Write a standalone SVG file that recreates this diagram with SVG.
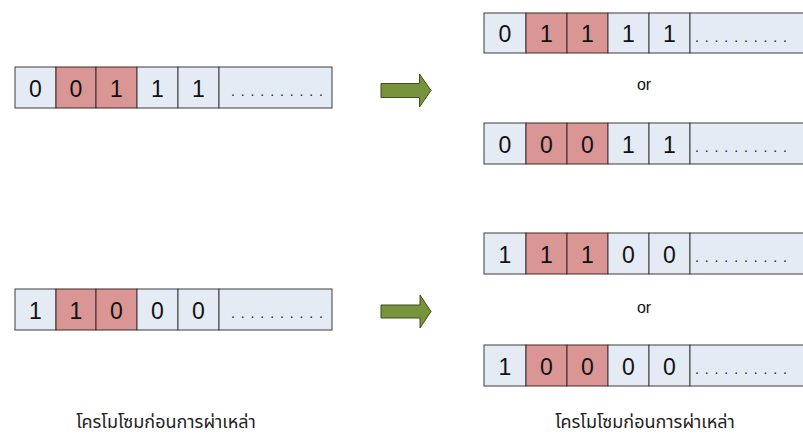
<svg xmlns="http://www.w3.org/2000/svg" width="803" height="436" viewBox="0 0 803 436">
  <defs>
    <style>
      .cell { fill: #e4ebf5; stroke: #3c3c3c; stroke-width: 1; }
      .hot { fill: #d99694; stroke: #3c2a2a; stroke-width: 1; }
      .bit { font-family: "Liberation Sans", Arial, sans-serif; font-size: 23px; fill: #111; text-anchor: middle; }
      .dots { font-family: "Liberation Sans", Arial, sans-serif; font-size: 14px; fill: #222; letter-spacing: 5.9px; }
      .or { font-family: "Liberation Sans", Arial, sans-serif; font-size: 16px; fill: #111; text-anchor: middle; }
      .cap { font-family: "Noto Sans Thai", "Noto Sans", "Liberation Sans", sans-serif; font-size: 18px; fill: #222; text-anchor: middle; }
      .arrow { fill: #77933c; stroke: #3f4f1f; stroke-width: 1; }
    </style>
  </defs>

  <!-- left: chromosome 1 -->
  <g id="left-top">
    <rect class="cell" x="15" y="67" width="41" height="41"/>
    <rect class="hot" x="56" y="67" width="40" height="41"/>
    <rect class="hot" x="96" y="67" width="41" height="41"/>
    <rect class="cell" x="137" y="67" width="41" height="41"/>
    <rect class="cell" x="178" y="67" width="41" height="41"/>
    <rect class="cell" x="219" y="67" width="113" height="41"/>
    <text class="bit" x="35.5" y="97">0</text>
    <text class="bit" x="76" y="97">0</text>
    <text class="bit" x="116.5" y="97">1</text>
    <text class="bit" x="157.5" y="97">1</text>
    <text class="bit" x="198.5" y="97">1</text>
    <text class="dots" x="231" y="96">..........</text>
  </g>

  <!-- left: chromosome 2 -->
  <g id="left-bottom">
    <rect class="cell" x="15" y="289" width="41" height="41"/>
    <rect class="hot" x="56" y="289" width="40" height="41"/>
    <rect class="hot" x="96" y="289" width="41" height="41"/>
    <rect class="cell" x="137" y="289" width="41" height="41"/>
    <rect class="cell" x="178" y="289" width="41" height="41"/>
    <rect class="cell" x="219" y="289" width="113" height="41"/>
    <text class="bit" x="35.5" y="319">1</text>
    <text class="bit" x="76" y="319">1</text>
    <text class="bit" x="116.5" y="319">0</text>
    <text class="bit" x="157.5" y="319">0</text>
    <text class="bit" x="198.5" y="319">0</text>
    <text class="dots" x="231" y="318">..........</text>
  </g>

  <!-- right: results for chromosome 1 -->
  <g id="right-1a">
    <rect class="cell" x="484" y="13" width="42" height="40"/>
    <rect class="hot" x="526" y="13" width="41" height="40"/>
    <rect class="hot" x="567" y="13" width="41" height="40"/>
    <rect class="cell" x="608" y="13" width="41" height="40"/>
    <rect class="cell" x="649" y="13" width="41" height="40"/>
    <rect class="cell" x="690" y="13" width="120" height="40"/>
    <text class="bit" x="505" y="42">0</text>
    <text class="bit" x="546.5" y="42">1</text>
    <text class="bit" x="587.5" y="42">1</text>
    <text class="bit" x="628.5" y="42">1</text>
    <text class="bit" x="669.5" y="42">1</text>
    <text class="dots" x="695" y="42">..........</text>
  </g>
  <text class="or" x="644" y="90">or</text>
  <g id="right-1b">
    <rect class="cell" x="484" y="123" width="42" height="41"/>
    <rect class="hot" x="526" y="123" width="41" height="41"/>
    <rect class="hot" x="567" y="123" width="41" height="41"/>
    <rect class="cell" x="608" y="123" width="41" height="41"/>
    <rect class="cell" x="649" y="123" width="41" height="41"/>
    <rect class="cell" x="690" y="123" width="120" height="41"/>
    <text class="bit" x="505" y="153">0</text>
    <text class="bit" x="546.5" y="153">0</text>
    <text class="bit" x="587.5" y="153">0</text>
    <text class="bit" x="628.5" y="153">1</text>
    <text class="bit" x="669.5" y="153">1</text>
    <text class="dots" x="695" y="152">..........</text>
  </g>

  <!-- right: results for chromosome 2 -->
  <g id="right-2a">
    <rect class="cell" x="484" y="233" width="42" height="41"/>
    <rect class="hot" x="526" y="233" width="41" height="41"/>
    <rect class="hot" x="567" y="233" width="41" height="41"/>
    <rect class="cell" x="608" y="233" width="41" height="41"/>
    <rect class="cell" x="649" y="233" width="41" height="41"/>
    <rect class="cell" x="690" y="233" width="120" height="41"/>
    <text class="bit" x="505" y="263">1</text>
    <text class="bit" x="546.5" y="263">1</text>
    <text class="bit" x="587.5" y="263">1</text>
    <text class="bit" x="628.5" y="263">0</text>
    <text class="bit" x="669.5" y="263">0</text>
    <text class="dots" x="695" y="262">..........</text>
  </g>
  <text class="or" x="644" y="313">or</text>
  <g id="right-2b">
    <rect class="cell" x="484" y="345" width="42" height="41"/>
    <rect class="hot" x="526" y="345" width="41" height="41"/>
    <rect class="hot" x="567" y="345" width="41" height="41"/>
    <rect class="cell" x="608" y="345" width="41" height="41"/>
    <rect class="cell" x="649" y="345" width="41" height="41"/>
    <rect class="cell" x="690" y="345" width="120" height="41"/>
    <text class="bit" x="505" y="375">1</text>
    <text class="bit" x="546.5" y="375">0</text>
    <text class="bit" x="587.5" y="375">0</text>
    <text class="bit" x="628.5" y="375">0</text>
    <text class="bit" x="669.5" y="375">0</text>
    <text class="dots" x="695" y="374">..........</text>
  </g>

  <!-- block arrows -->
  <g id="connectors">
    <path class="arrow" d="M381,83.5 H419.5 V74 L431,90.5 L419.5,107 V97.5 H381 Z"/>
    <path class="arrow" d="M381,305 H420 V295 L431,311.5 L420,328 V318 H381 Z"/>
  </g>

  <!-- captions -->
  <text class="cap" x="166" y="428">โครโมโซมก่อนการผ่าเหล่า</text>
  <text class="cap" x="645" y="428">โครโมโซมก่อนการผ่าเหล่า</text>
</svg>
